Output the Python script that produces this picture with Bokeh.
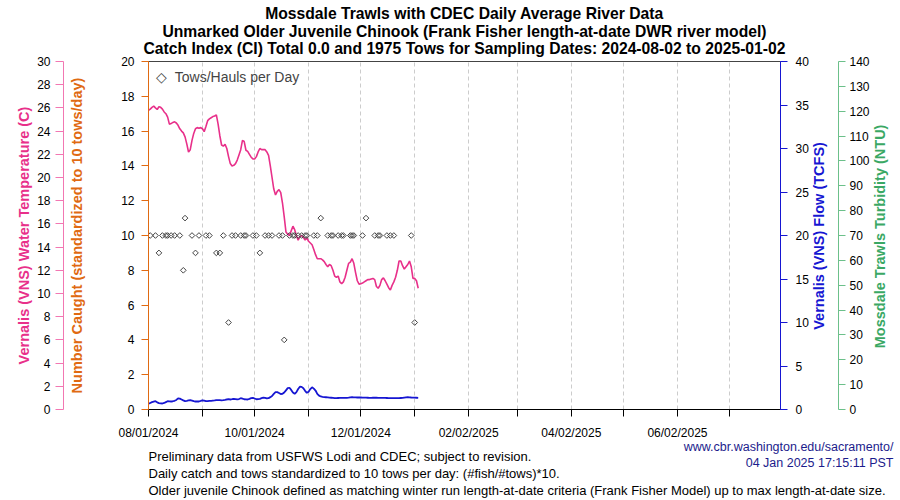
import math
from datetime import datetime
import pandas as pd
from bokeh.plotting import figure
from bokeh.models import (Range1d, LinearAxis, SingleIntervalTicker, FixedTicker,
                          Legend, LegendItem, Title)
from bokeh.embed import file_html
from bokeh.resources import INLINE

# ---------------- data ----------------
series_start = "2024-08-01"

temp_c = [
    25.8, 25.9, 26.05, 26.15, 26.0, 25.86, 26.1, 26.05, 25.9, 25.65,
    25.5, 25.2, 24.6, 24.65, 24.75, 24.8, 24.7, 24.5, 24.2, 24.0,
    23.85, 23.5, 22.9, 22.2, 22.4, 23.2, 23.8, 24.2, 24.3, 24.25,
    24.3, 24.2, 23.95, 24.4, 24.9, 25.05, 25.15, 25.25, 25.3, 25.4,
    24.6, 23.6, 22.8, 22.7, 22.85, 22.5, 21.8, 21.2, 21.0, 21.05,
    21.2, 21.5, 21.95, 22.4, 23.2, 23.1, 22.35, 22.25, 22.0, 21.75,
    21.6, 21.6, 21.8, 22.2, 22.5, 22.4, 22.4, 22.4, 22.2, 21.9,
    21.0, 20.0, 19.0, 18.5, 18.8, 18.95, 18.7, 17.8, 16.6, 15.3,
    15.1, 15.0, 15.4, 15.8, 15.5, 15.0, 14.6, 14.9, 15.0, 14.85,
    14.6, 14.8, 14.5, 14.35, 14.2, 13.8, 13.35, 13.0, 13.0, 13.0,
    12.9, 12.75, 12.5, 12.3, 12.5, 12.4, 12.0, 11.5, 11.4, 11.5,
    11.0, 10.85, 11.0, 11.4, 12.0, 12.6, 12.7, 13.0, 12.6, 11.8,
    11.1, 10.8, 10.85, 10.9, 11.0, 11.1, 11.2, 11.2, 11.25, 11.3,
    11.2, 10.6, 10.45, 10.7, 11.2, 11.35, 11.1, 10.8, 10.5, 10.3,
    10.7, 11.0, 11.4, 12.0, 12.8, 12.8, 12.4, 12.1, 12.3, 12.5,
    12.8, 12.3, 11.3, 11.3, 11.1, 10.45,
]

flow_tcfs = [
    0.66, 0.75, 0.84, 0.9, 0.95, 0.82, 0.74, 0.70, 0.69, 0.75,
    0.85, 0.95, 0.94, 0.92, 0.95, 1.0, 1.1, 1.28, 1.25, 1.15,
    1.05, 0.96, 1.0, 1.05, 1.07, 1.02, 0.96, 0.92, 0.92, 0.92,
    0.98, 1.05, 1.02, 0.96, 0.96, 0.98, 1.0, 1.02, 1.04, 1.07,
    1.07, 1.07, 1.06, 1.07, 1.1, 1.15, 1.18, 1.15, 1.18, 1.23,
    1.2, 1.15, 1.2, 1.3, 1.25, 1.18, 1.16, 1.15, 1.22, 1.3,
    1.34, 1.26, 1.18, 1.2, 1.23, 1.3, 1.37, 1.33, 1.27, 1.3,
    1.42, 1.55, 1.8, 1.99, 2.0, 1.9, 1.78, 1.8, 1.95, 2.2,
    2.45, 2.5, 2.25, 1.95, 1.8, 2.0, 2.35, 2.62, 2.6, 2.45,
    2.15, 1.92, 2.05, 2.35, 2.55, 2.4, 2.18, 1.8, 1.6, 1.5,
    1.46, 1.43, 1.41, 1.39, 1.37, 1.35, 1.33, 1.31, 1.3, 1.32,
    1.34, 1.34, 1.34, 1.34, 1.34, 1.36, 1.39, 1.41, 1.4, 1.39,
    1.38, 1.38, 1.38, 1.37, 1.37, 1.36, 1.35, 1.34, 1.34, 1.35,
    1.36, 1.35, 1.34, 1.34, 1.34, 1.33, 1.33, 1.32, 1.31, 1.3,
    1.3, 1.3, 1.3, 1.3, 1.3, 1.32, 1.34, 1.37, 1.4, 1.41,
    1.4, 1.38, 1.37, 1.36, 1.35, 1.34,
]

tow_dates = [
    "2024-08-02", "2024-08-05", "2024-08-07", "2024-08-09", "2024-08-11", "2024-08-12",
    "2024-08-14", "2024-08-16", "2024-08-19", "2024-08-21", "2024-08-22", "2024-08-26",
    "2024-08-28", "2024-08-30", "2024-09-03", "2024-09-05", "2024-09-09", "2024-09-11",
    "2024-09-13", "2024-09-16", "2024-09-18", "2024-09-20", "2024-09-23", "2024-09-25",
    "2024-09-26", "2024-09-30", "2024-10-02", "2024-10-04", "2024-10-07", "2024-10-09",
    "2024-10-11", "2024-10-15", "2024-10-17", "2024-10-18", "2024-10-21", "2024-10-23",
    "2024-10-24", "2024-10-26", "2024-10-28", "2024-10-30", "2024-10-31", "2024-11-04",
    "2024-11-06", "2024-11-08", "2024-11-12", "2024-11-14", "2024-11-15", "2024-11-18",
    "2024-11-20", "2024-11-21", "2024-11-25", "2024-11-26", "2024-11-27", "2024-12-02",
    "2024-12-04", "2024-12-09", "2024-12-11", "2024-12-12", "2024-12-16", "2024-12-18",
    "2024-12-20", "2024-12-30", "2025-01-01",
]
tows_per_day = [
    10, 10, 9, 10, 10, 10,
    10, 10, 10, 8, 11, 10,
    9, 10, 10, 10, 9, 9,
    10, 5, 10, 10, 10, 10,
    10, 10, 10, 9, 10, 10,
    10, 10, 10, 4, 10, 10,
    10, 10, 10, 10, 10, 10,
    10, 11, 10, 10, 10, 10,
    10, 10, 10, 10, 10, 10,
    11, 10, 10, 10, 10, 10,
    10, 10, 5,
]

x_tick_dates = ["2024-08-01", "2024-09-01", "2024-10-01", "2024-11-01", "2024-12-01",
                "2025-01-01", "2025-02-01", "2025-03-01", "2025-04-01", "2025-05-01",
                "2025-06-01", "2025-07-01"]
x_tick_labels = ["08/01/2024", "", "10/01/2024", "", "12/01/2024", "",
                 "02/02/2025", "", "04/02/2025", "", "06/02/2025", ""]

title_lines = [
    "Mossdale Trawls with CDEC Daily Average River Data",
    "Unmarked Older Juvenile Chinook (Frank Fisher length-at-date DWR river model)",
    "Catch Index (CI) Total 0.0 and 1975 Tows for Sampling Dates: 2024-08-02 to 2025-01-02",
]
footnotes = [
    "Preliminary data from USFWS Lodi and CDEC; subject to revision.",
    "Daily catch and tows standardized to 10 tows per day: (#fish/#tows)*10.",
    "Older juvenile Chinook defined as matching winter run length-at-date criteria (Frank Fisher Model) up to max length-at-date size.",
]
source_lines = ["www.cbr.washington.edu/sacramento/", "04 Jan 2025 17:15:11 PST"]

# ---------------- styles ----------------
FONT = "Liberation Sans"
PINK = "#e8308a"
PINK_AXIS = "#f277b2"
ORANGE = "#e06a12"
BLUE = "#1616d2"
GREEN = "#3aa864"
GREEN_AXIS = "#6cc08a"
NAVY = "#1c1c8c"
AXIS_TITLE_SIZE = "14.5px"

dates = pd.date_range(series_start, periods=len(temp_c), freq="D")
tow_dt = pd.to_datetime(tow_dates)
tick_ms = [int(pd.Timestamp(d).value // 10**6) for d in x_tick_dates]

p = figure(frame_width=632, frame_height=348, x_axis_type="datetime",
           x_range=Range1d(datetime(2024, 8, 1), datetime(2025, 7, 30, 5)),
           y_range=Range1d(0, 20),
           output_backend="svg", toolbar_location=None,
           min_border_left=148, min_border_right=120, min_border_top=61, min_border_bottom=91,
           background_fill_color="white", border_fill_color="white")
p.outline_line_color = "#444444"

p.extra_y_ranges = {"temp": Range1d(0, 30), "flow": Range1d(0, 40), "turb": Range1d(0, 140)}

# grid
xt = FixedTicker(ticks=tick_ms)
p.xaxis.ticker = xt
p.xgrid.ticker = xt
p.xgrid.grid_line_color = "#cccccc"
p.xgrid.grid_line_dash = "4 3"
p.ygrid.visible = False


def style_axis(ax, color, tick_out, standoff):
    ax.axis_line_color = color
    ax.major_tick_line_color = color
    ax.minor_tick_line_color = None
    ax.major_tick_out = tick_out
    ax.major_tick_in = 0
    ax.major_label_standoff = standoff
    ax.major_label_text_font = FONT
    ax.major_label_text_font_size = "12px"
    ax.major_label_text_color = "black"


def axis_title(ax, text, color, standoff):
    ax.axis_label = text
    ax.axis_label_text_font = FONT
    ax.axis_label_text_font_size = AXIS_TITLE_SIZE
    ax.axis_label_text_font_style = "bold"
    ax.axis_label_text_color = color
    ax.axis_label_standoff = standoff


def gap(side):
    # an invisible axis whose only label is a 1px blank: a ~3px gap between two axes
    g = LinearAxis(ticker=FixedTicker(ticks=[0]), axis_line_color=None,
                   major_tick_line_color=None, minor_tick_line_color=None,
                   major_tick_out=0, major_tick_in=0, minor_tick_out=0,
                   major_label_standoff=0, major_label_overrides={0: "\u00a0"},
                   major_label_text_font_size="1px")
    p.add_layout(g, side)


def right_title(text, color, start_at, standoff):
    # a right-side title that reads bottom-to-top: a single rotated tick label
    # (start_at is where the text begins, in the units of the main y range)
    t = LinearAxis(ticker=FixedTicker(ticks=[start_at]), axis_line_color=None,
                   major_tick_line_color=None, minor_tick_line_color=None,
                   major_tick_out=0, major_tick_in=0, minor_tick_out=0,
                   major_label_standoff=standoff, major_label_orientation=math.pi / 2,
                   major_label_overrides={start_at: text},
                   major_label_text_font=FONT, major_label_text_font_size=AXIS_TITLE_SIZE,
                   major_label_text_font_style="bold", major_label_text_color=color)
    p.add_layout(t, "right")


# x axis
xa = p.xaxis[0]
style_axis(xa, "black", 7, 9)
xa.major_label_overrides = {ms: lab for ms, lab in zip(tick_ms, x_tick_labels)}

# left inner (catch) axis
oa = p.yaxis[0]
oa.ticker = SingleIntervalTicker(interval=2, num_minor_ticks=0)
style_axis(oa, ORANGE, 7, 7)
axis_title(oa, "Number Caught (standardized to 10 tows/day)", ORANGE, 33)
gap("left")

# left outer (temperature) axis
pa = LinearAxis(y_range_name="temp", ticker=SingleIntervalTicker(interval=2, num_minor_ticks=0))
style_axis(pa, PINK_AXIS, 8, 5)
axis_title(pa, "Vernalis (VNS) Water Temperature (C)", PINK, 2)
p.add_layout(pa, "left")

# right inner (flow) axis
ba = LinearAxis(y_range_name="flow", ticker=SingleIntervalTicker(interval=5, num_minor_ticks=0))
style_axis(ba, BLUE, 7, 8)
p.add_layout(ba, "right")
right_title("Vernalis (VNS) Flow (TCFS)", BLUE, 4.58, 8)

# right outer (turbidity) axis
ga = LinearAxis(y_range_name="turb", ticker=SingleIntervalTicker(interval=10, num_minor_ticks=0))
style_axis(ga, GREEN_AXIS, 7, 4)
p.add_layout(ga, "right")
right_title("Mossdale Trawls Turbidity (NTU)", GREEN, 3.52, 8)

# title (three lines, stacked from the frame upward)
for line, so, va in zip(reversed(title_lines), [9, -12, 5], ["bottom", "bottom", "top"]):
    p.add_layout(Title(text=line, align="center", vertical_align=va, text_font=FONT,
                       text_font_size="15.7px", text_font_style="bold",
                       text_color="black", standoff=so), "above")

# footer texts, stacked below the x axis in reading order
footer = [
    (source_lines[0], "right", NAVY, "12.5px", -9),
    (footnotes[0], "left", "black", "13px", -5),
    (source_lines[1], "right", NAVY, "12.5px", -16),
    (footnotes[1], "left", "black", "13px", 4),
    (footnotes[2], "left", "black", "13px", -3),
]
for text, al, col, fs, so in footer:
    p.add_layout(Title(text=text, align=al, offset=(-113 if al == "right" else 0),
                       text_font=FONT, text_font_size=fs, text_font_style="normal",
                       text_color=col, standoff=so), "below")

# data
p.line(dates, temp_c, y_range_name="temp", line_color=PINK, line_width=1.6)
p.line(dates, flow_tcfs, y_range_name="flow", line_color=BLUE, line_width=1.8)
tows_r = p.scatter(tow_dt, tows_per_day, marker="square", angle=math.pi / 4, size=4,
                   fill_color=None, line_color="#444444", line_width=1)
legend_r = p.scatter([], [], marker="square", fill_alpha=0, line_alpha=0)

legend = Legend(items=[LegendItem(label="\u25c7\u00a0\u00a0Tows/Hauls per Day", renderers=[legend_r])],
                location="top_left", margin=8, padding=0, spacing=0,
                glyph_width=0, glyph_height=16, label_height=16, label_standoff=0,
                label_text_font=FONT, label_text_font_size="14px",
                border_line_color=None, background_fill_alpha=0)
p.add_layout(legend)

open("out.html", "w").write(file_html(p, INLINE))
